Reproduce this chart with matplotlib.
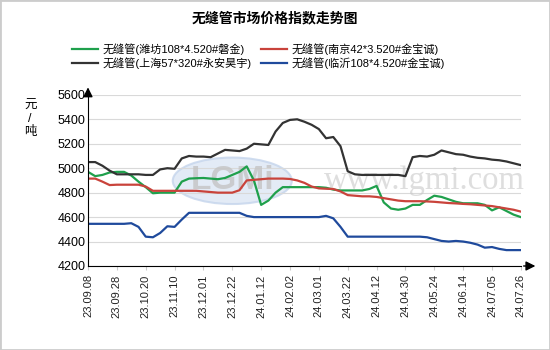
import matplotlib
matplotlib.use("Agg")
import matplotlib.pyplot as plt
from matplotlib.patches import Rectangle, Ellipse

plt.rcParams['font.family'] = ['Liberation Sans', 'Noto Sans CJK SC']

# 日期标签 (每4个点一个)
dates = ['23.09.08', '23.09.28', '23.10.20', '23.11.10', '23.12.01', '23.12.22',
         '24.01.12', '24.02.02', '24.03.01', '24.03.22', '24.04.12', '24.04.30',
         '24.05.24', '24.06.14', '24.07.05', '24.07.26']

weifang = [4970, 4935, 4945, 4965, 4970, 4970, 4940, 4890, 4845, 4795,
           4800, 4800, 4800, 4890, 4915, 4918, 4920, 4915, 4910, 4920,
           4945, 4970, 5015, 4900, 4700, 4735, 4800, 4845, 4845, 4845,
           4845, 4845, 4845, 4840, 4825, 4818, 4818, 4818, 4818, 4830,
           4855, 4720, 4670, 4660, 4670, 4700, 4700, 4740, 4775, 4765,
           4745, 4725, 4713, 4713, 4713, 4700, 4655, 4680, 4650, 4620,
           4600]
nanjing = [4915, 4915, 4890, 4862, 4865, 4865, 4865, 4865, 4850, 4815,
           4815, 4815, 4815, 4815, 4815, 4815, 4810, 4805, 4800, 4800,
           4800, 4820, 4900, 4905, 4910, 4915, 4915, 4915, 4912, 4900,
           4880, 4850, 4835, 4832, 4830, 4810, 4780, 4775, 4770, 4770,
           4765, 4755, 4745, 4735, 4730, 4730, 4730, 4728, 4725, 4720,
           4715, 4712, 4708, 4705, 4700, 4695, 4690, 4680, 4670, 4660,
           4645]
shanghai = [5050, 5050, 5020, 4980, 4950, 4950, 4950, 4950, 4945, 4945,
            4990, 5000, 4995, 5080, 5100, 5095, 5095, 5090, 5120, 5150,
            5145, 5140, 5160, 5200, 5195, 5190, 5300, 5370, 5395, 5400,
            5380, 5355, 5320, 5245, 5255, 5180, 4975, 4950, 4945, 4945,
            4945, 4945, 4945, 4945, 4935, 5090, 5100, 5095, 5110, 5145,
            5130, 5115, 5110, 5095, 5085, 5080, 5070, 5065, 5055, 5040,
            5025]
linyi = [4545, 4545, 4545, 4545, 4545, 4545, 4550, 4520, 4440, 4435,
         4470, 4525, 4520, 4580, 4635, 4635, 4635, 4635, 4635, 4635,
         4635, 4635, 4610, 4600, 4600, 4600, 4600, 4600, 4600, 4600,
         4600, 4600, 4600, 4610, 4590, 4520, 4440, 4440, 4440, 4440,
         4440, 4440, 4440, 4440, 4440, 4440, 4440, 4435, 4420, 4405,
         4400, 4405, 4400, 4390, 4375, 4350, 4355, 4340, 4330, 4330,
         4330]

names = ['无缝管(潍坊108*4.520#磐金)', '无缝管(上海57*320#永安昊宇)',
         '无缝管(南京42*3.520#金宝诚)', '无缝管(临沂108*4.520#金宝诚)']
colors = ['#1fa04c', '#333333', '#c9433b', '#1f4a9c']

fig = plt.figure(figsize=(5.5, 3.5), dpi=100)
ax = fig.add_axes([0.16, 0.24, 0.787, 0.489])

# 水印 logo
ax.add_patch(Ellipse((20, 4897), 16.5, 380, facecolor='#dce6f4', edgecolor='#c5d5ec',
                     lw=1.5, alpha=0.8, zorder=0.5))
ax.text(20, 4897, 'LGMi', fontsize=24, fontweight='bold', color='#c4c4c4',
        ha='center', va='center', zorder=0.6, alpha=0.8)
ax.text(0.545, 0.5, 'www.lgmi.com', transform=ax.transAxes, fontsize=23.5,
        color='#c8c8c8', alpha=0.6, ha='left', va='center', family='Liberation Serif',
        zorder=0.6)

x = list(range(len(weifang)))
for vals, name, c in zip([weifang, shanghai, nanjing, linyi], names, colors):
    ax.plot(x, vals, color=c, lw=1.6, label=name)

ax.set_xlim(0, 60)
ax.set_ylim(4200, 5600)
ax.set_yticks(range(4200, 5601, 200))
ax.set_xticks(range(0, 61, 4))
ax.set_xticklabels(dates, rotation=90, fontsize=8, color='#222222')
ax.tick_params(axis='y', length=0, labelsize=9, pad=2)
ax.tick_params(axis='x', length=3, color='#cccccc', pad=3)
ax.grid(axis='y', color='#d9d9d9', lw=0.8)
ax.set_axisbelow(True)
for s in ['top', 'right']:
    ax.spines[s].set_visible(False)
ax.spines['left'].set_color('black')
ax.spines['bottom'].set_color('black')

# 坐标轴箭头
ax.annotate('', xy=(1.04, 0), xytext=(1.0, 0), xycoords='axes fraction',
            arrowprops=dict(arrowstyle='-|>', color='black', lw=1, mutation_scale=14),
            annotation_clip=False)
ax.annotate('', xy=(0, 1.06), xytext=(0, 1.0), xycoords='axes fraction',
            arrowprops=dict(arrowstyle='-|>', color='black', lw=1, mutation_scale=14),
            annotation_clip=False)

fig.text(0.055, 0.66, '元\n/\n吨', fontsize=9, ha='center', va='center', linespacing=1.1)
fig.text(0.5, 0.948, '无缝管市场价格指数走势图', fontsize=10, fontweight='bold', ha='center', va='center')

fig.legend(loc='center', bbox_to_anchor=(0.47, 0.84), ncol=2, frameon=False,
           fontsize=8, handlelength=2.4, handletextpad=0.4, columnspacing=0.8,
           labelspacing=0.2)

fig.patches.append(Rectangle((0, 0), 1, 1, transform=fig.transFigure, fill=False,
                             edgecolor='#cccccc', lw=2))

fig.savefig('out.png', dpi=100)
